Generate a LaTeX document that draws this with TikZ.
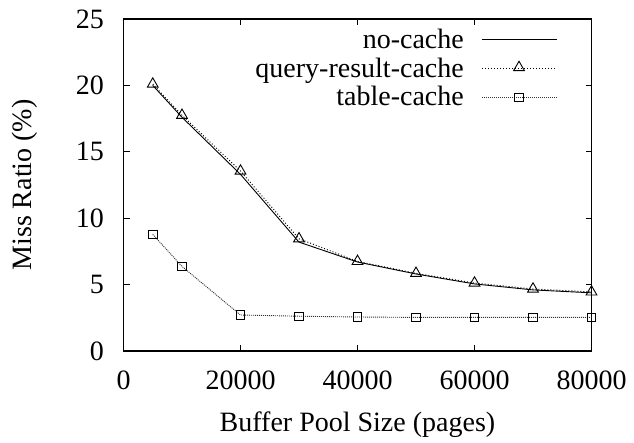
\documentclass[tikz,border=0pt]{standalone}
\usepackage{fontspec}
\setmainfont{Liberation Serif}
\usetikzlibrary{shapes.geometric}
\begin{document}
\begin{tikzpicture}[
  lbl/.style={font=\fontsize{28}{32}\selectfont, inner sep=0pt},
  frame/.style={line width=1.1pt},
  tickmark/.style={line width=0.8pt},
  ncline/.style={line width=0.9pt, black},
  qline/.style={line width=0.9pt, black, dash pattern=on 1pt off 2pt},
  tline/.style={line width=0.9pt, black!80, dash pattern=on 1pt off 1pt},
  tri/.style={draw, line width=0.9pt, regular polygon, regular polygon sides=3, minimum size=12.5pt, inner sep=0pt, fill=none},
  sq/.style={draw, line width=0.9pt, rectangle, minimum size=8.5pt, inner sep=0pt},
]
\useasboundingbox (0,0) rectangle (634pt,442pt);
\begin{scope}[shift={(123.5pt,91pt)}, x=5.85pt, y=13.28pt]
  % corners
  \coordinate (ll) at (0,0);
  \coordinate (ur) at (80,25);
  % ticks
  \foreach \xv in {20,40,60} {
    \draw[tickmark] (\xv,0) -- ++(0,6pt);
    \draw[tickmark] (\xv,25) -- ++(0,-6pt);
  }
  \foreach \yv in {5,10,15,20} {
    \draw[tickmark] (0,\yv) -- ++(6pt,0);
    \draw[tickmark] (80,\yv) -- ++(-6pt,0);
  }
  \draw[frame] (ll) rectangle (ur);
  % tick labels
  \foreach \xv/\xl in {0/0,20/20000,40/40000,60/60000,80/80000}
    \node[lbl] (xt\xv) at ([yshift=-29pt]\xv,0) {\xl};
  \foreach \yv in {0,5,10,15,20,25}
    \node[lbl, anchor=east] (yt\yv) at ([xshift=-19.5pt]0,\yv) {\yv};
  % axis labels
  \node[lbl, anchor=base] (xlab) at ([yshift=-80.7pt]40,0) {Buffer Pool Size (pages)};
  \node[lbl, rotate=90] (ylab) at ([xshift=-98.5pt]0,12.5) {Miss Ratio (\%)};

  % data: no-cache
  \coordinate (n1) at (5,20.0);
  \coordinate (n2) at (10,17.6);
  \coordinate (n3) at (20,13.3);
  \coordinate (n4) at (30,8.2);
  \coordinate (n5) at (40,6.7);
  \coordinate (n6) at (50,5.8);
  \coordinate (n7) at (60,5.05);
  \coordinate (n8) at (70,4.6);
  \coordinate (n9) at (80,4.38);
  % query-result-cache
  \coordinate (q1) at (5,20.1);
  \coordinate (q2) at (10,17.75);
  \coordinate (q3) at (20,13.55);
  \coordinate (q4) at (30,8.45);
  \coordinate (q5) at (40,6.75);
  \coordinate (q6) at (50,5.85);
  \coordinate (q7) at (60,5.12);
  \coordinate (q8) at (70,4.67);
  \coordinate (q9) at (80,4.45);
  % table-cache
  \coordinate (t1) at (5,8.78);
  \coordinate (t2) at (10,6.37);
  \coordinate (t3) at (20,2.71);
  \coordinate (t4) at (30,2.62);
  \coordinate (t5) at (40,2.56);
  \coordinate (t6) at (50,2.53);
  \coordinate (t7) at (60,2.53);
  \coordinate (t8) at (70,2.53);
  \coordinate (t9) at (80,2.53);

  \draw[tline] (t1) -- (t2) -- (t3) -- (t4) -- (t5) -- (t6) -- (t7) -- (t8) -- (t9);
  \draw[qline] (q1) -- (q2) -- (q3) -- (q4) -- (q5) -- (q6) -- (q7) -- (q8) -- (q9);
  \draw[ncline] (n1) -- (n2) -- (n3) -- (n4) -- (n5) -- (n6) -- (n7) -- (n8) -- (n9);
  \foreach \p in {q1,q2,q3,q4,q5,q6,q7,q8,q9}
    \node[tri] at (\p) {};
  \foreach \p in {t1,t2,t3,t4,t5,t6,t7,t8,t9}
    \node[sq] at (\p) {};
\end{scope}

% legend
\node[lbl, anchor=base east] (lg1) at (464pt,393pt) {no-cache};
\node[lbl, anchor=base east] (lg2) at (464pt,364.7pt) {query-result-cache};
\node[lbl, anchor=base east] (lg3) at (464pt,336pt) {table-cache};
\coordinate (ls1a) at (482.3pt,402.7pt);
\coordinate (ls1b) at (556.7pt,402.7pt);
\coordinate (ls2a) at (482.3pt,373.7pt);
\coordinate (ls2b) at (556.7pt,373.7pt);
\coordinate (ls3a) at (482.3pt,344.7pt);
\coordinate (ls3b) at (556.7pt,344.7pt);
\draw[ncline] (ls1a) -- (ls1b);
\draw[qline] (ls2a) -- (ls2b);
\draw[tline] (ls3a) -- (ls3b);
\node[tri] (lm2) at (519pt,374.5pt) {};
\node[sq] (lm3) at (519pt,344.7pt) {};
\end{tikzpicture}
\end{document}
